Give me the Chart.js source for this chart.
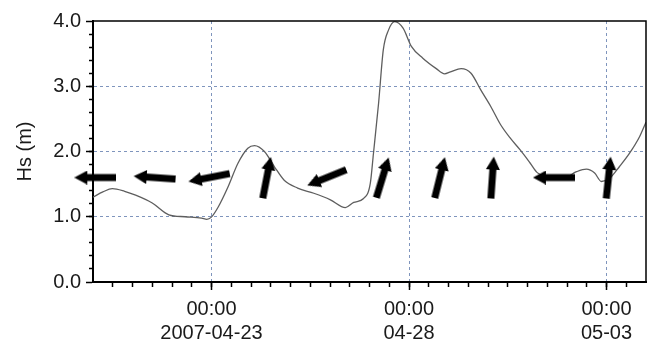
<!DOCTYPE html>
<html lang="en">
<head>
  <meta charset="UTF-8">
  <title>Hs time series</title>
  <script src="https://cdn.jsdelivr.net/npm/chart.js"></script>
  <style>
    html, body { margin: 0; padding: 0; background: #fff; }
    canvas { display: block; }
  </style>
</head>
<body>
<canvas id="hsChart" width="651" height="342"></canvas>

<script>
  // x = days since 2007-04-20 00:00
  const hsDays = [0.00, 0.25, 0.49, 0.80, 1.08, 1.50, 1.92, 2.33, 2.75, 2.88, 2.99, 3.17, 3.42, 3.67, 3.92, 4.09,
    4.34, 4.59, 4.84, 5.18, 5.59, 6.01, 6.39, 6.60, 6.85, 7.02, 7.10, 7.23, 7.35, 7.48, 7.64, 7.85, 8.06, 8.35,
    8.69, 8.90, 9.05, 9.32, 9.57, 9.82, 10.07, 10.32, 10.57, 10.82, 11.07, 11.24, 11.49, 11.91, 12.24, 12.49,
    12.70, 12.87, 13.08, 13.33, 13.58, 13.84, 14.00];
  const hsValues = [1.30, 1.38, 1.43, 1.39, 1.33, 1.21, 1.03, 1.00, 0.98, 0.96, 0.99, 1.15, 1.46, 1.82, 2.05, 2.09,
    2.00, 1.77, 1.56, 1.44, 1.36, 1.26, 1.14, 1.22, 1.28, 1.51, 1.97, 2.74, 3.56, 3.86, 3.99, 3.89, 3.61, 3.43,
    3.27, 3.19, 3.22, 3.27, 3.20, 2.94, 2.69, 2.41, 2.20, 2.02, 1.82, 1.68, 1.61, 1.59, 1.69, 1.73,
    1.67, 1.54, 1.59, 1.77, 1.97, 2.23, 2.45];

  // direction arrows (screen angle in degrees, 0 = pointing right, clockwise)
  const arrowDays = [0.06, 1.56, 2.94, 4.40, 5.92, 7.33, 8.78, 10.11, 11.67, 13.05];
  const arrowLevel = [1.6, 1.6, 1.6, 1.6, 1.6, 1.6, 1.6, 1.6, 1.6, 1.6];
  const arrowAngle = [180, 184, 169, 281, 158, 287, 284, 274, 180, 276];

  const xTickDays = [3, 8, 13];
  const xTickLabels = [['00:00', '2007-04-23'], ['00:00', '04-28'], ['00:00', '05-03']];
  const yTicks = [0, 1, 2, 3, 4];

  const font = { family: "'Liberation Sans', Arial, sans-serif", size: 20 };
  const textColor = '#1a1a1a';

  function makeArrow() {
    const c = document.createElement('canvas');
    c.width = 42;
    c.height = 14;
    const g = c.getContext('2d');
    g.fillStyle = '#000';
    g.fillRect(0, 3.5, 31, 7);
    g.beginPath();
    g.moveTo(29, 0);
    g.lineTo(42, 7);
    g.lineTo(29, 14);
    g.closePath();
    g.fill();
    return c;
  }
  const arrowImg = makeArrow();

  const framePlugin = {
    id: 'frame',
    afterDraw(chart) {
      const { ctx, chartArea: a } = chart;
      ctx.save();
      ctx.strokeStyle = '#000';
      ctx.lineWidth = 1.5;
      ctx.beginPath();
      ctx.moveTo(a.left, a.top);
      ctx.lineTo(a.right, a.top);
      ctx.lineTo(a.right, a.bottom);
      ctx.stroke();
      ctx.restore();
    }
  };

  const gridColor = (c) => (c.tick && (c.tick.value === 0 || c.tick.value === 4)) ? 'rgba(0,0,0,0)' : '#7f95bd';

  new Chart(document.getElementById('hsChart'), {
    data: {
      datasets: [
        {
          type: 'scatter',
          data: arrowDays.map((d, i) => ({ x: d, y: arrowLevel[i] })),
          pointStyle: arrowImg,
          rotation: arrowAngle,
          clip: false,
          order: 0
        },
        {
          type: 'line',
          data: hsDays.map((d, i) => ({ x: d, y: hsValues[i] })),
          borderColor: '#5e5e5e',
          borderWidth: 1.3,
          pointRadius: 0,
          cubicInterpolationMode: 'monotone',
          order: 1
        }
      ]
    },
    options: {
      responsive: false,
      animation: false,
      layout: { padding: { top: 21, right: 1, left: 0, bottom: 0 } },
      plugins: { legend: { display: false }, tooltip: { enabled: false } },
      scales: {
        x: {
          type: 'linear',
          position: 'bottom',
          weight: 1,
          min: 0,
          max: 14,
          afterBuildTicks: (s) => { s.ticks = xTickDays.map(v => ({ value: v })); },
          afterFit: (s) => { s.height = 60; },
          ticks: {
            autoSkip: false,
            maxRotation: 0,
            padding: 7,
            color: textColor,
            font: font,
            callback: (v) => xTickLabels[xTickDays.indexOf(v)]
          },
          grid: { color: '#7f95bd', lineWidth: 1, tickLength: 8, tickColor: '#000', tickWidth: 1.5 },
          border: { display: true, color: '#000', width: 2, dash: [3, 3] }
        },
        xMinor: {
          type: 'linear',
          position: 'bottom',
          weight: 0,
          min: 0,
          max: 14,
          afterBuildTicks: (s) => {
            const t = [];
            for (let v = 0.5; v < 14; v += 0.5) t.push({ value: v });
            s.ticks = t;
          },
          afterFit: (s) => { s.height = 0; },
          ticks: { display: false },
          grid: { drawOnChartArea: false, tickLength: 5, tickColor: '#000', tickWidth: 1.5 },
          border: { display: false }
        },
        y: {
          type: 'linear',
          position: 'left',
          weight: 1,
          min: 0,
          max: 4,
          afterBuildTicks: (s) => { s.ticks = yTicks.map(v => ({ value: v })); },
          afterFit: (s) => { s.width = 93; },
          ticks: {
            padding: 5,
            color: textColor,
            font: font,
            callback: (v) => v.toFixed(1)
          },
          title: {
            display: true,
            text: 'Hs (m)',
            color: textColor,
            font: font,
            padding: { top: 13, bottom: 0 }
          },
          grid: { color: gridColor, lineWidth: 1, tickLength: 7, tickColor: '#000', tickWidth: 1.5 },
          border: { display: true, color: '#000', width: 2, dash: [3, 3] }
        },
        yMinor: {
          type: 'linear',
          position: 'left',
          weight: 0,
          min: 0,
          max: 4,
          afterBuildTicks: (s) => {
            const t = [];
            for (let i = 1; i < 20; i++) t.push({ value: i * 0.2 });
            s.ticks = t;
          },
          afterFit: (s) => { s.width = 0; },
          ticks: { display: false },
          grid: { drawOnChartArea: false, tickLength: 4, tickColor: '#000', tickWidth: 1.5 },
          border: { display: false }
        }
      }
    },
    plugins: [framePlugin]
  });
</script>
</body>
</html>
